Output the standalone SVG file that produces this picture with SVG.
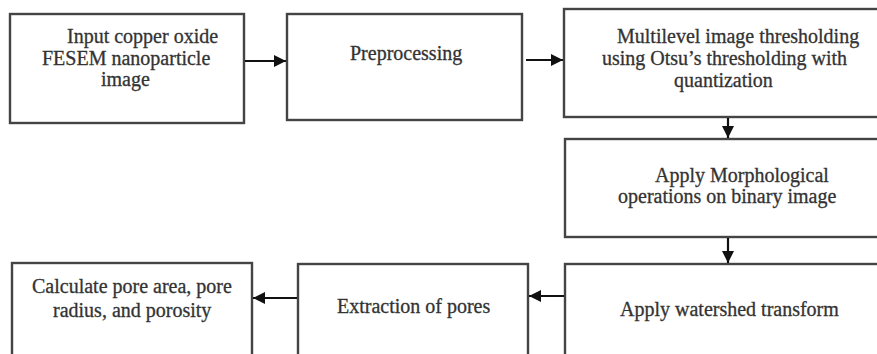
<svg xmlns="http://www.w3.org/2000/svg" width="877" height="354" viewBox="0 0 877 354">
<style>
.box{fill:#fff;stroke:#444;stroke-width:2.4}
.t{font-family:"Liberation Serif","Times New Roman",serif;font-size:20px;fill:#333;stroke:#333;stroke-width:0.3}
.c{stroke:#111;stroke-width:2.2;fill:none}
</style>
<defs>
<marker id="ah" markerWidth="12" markerHeight="12" refX="12" refY="6" orient="auto" markerUnits="userSpaceOnUse">
<path d="M0,0 L12,6 L0,12 Z" fill="#111"/>
</marker>
</defs>
<rect width="877" height="354" fill="#fff"/>
<g id="n1"><rect class="box" x="10" y="14" width="234" height="109"/>
<text class="t"><tspan x="67" y="43">Input copper oxide</tspan><tspan x="42" y="65">FESEM nanoparticle</tspan><tspan x="101" y="86">image</tspan></text></g>
<g id="n2"><rect class="box" x="287" y="14" width="235" height="106"/>
<text class="t" x="350" y="60">Preprocessing</text></g>
<g id="n3"><rect class="box" x="564" y="9" width="320" height="108"/>
<text class="t"><tspan x="617" y="43">Multilevel image thresholding</tspan><tspan x="602" y="65">using Otsu’s thresholding with</tspan><tspan x="674" y="87">quantization</tspan></text></g>
<g id="n4"><rect class="box" x="565" y="139" width="320" height="98"/>
<text class="t"><tspan x="655" y="182">Apply Morphological</tspan><tspan x="618" y="203">operations on binary image</tspan></text></g>
<g id="n5"><rect class="box" x="565" y="264" width="320" height="100"/>
<text class="t" x="620" y="316">Apply watershed transform</text></g>
<g id="n6"><rect class="box" x="298" y="264" width="230" height="100"/>
<text class="t" x="337" y="313">Extraction of pores</text></g>
<g id="n7"><rect class="box" x="12" y="263" width="240" height="100"/>
<text class="t"><tspan x="32" y="293">Calculate pore area, pore</tspan><tspan x="53" y="317">radius, and porosity</tspan></text></g>
<g id="connectors">
<line class="c" x1="245" y1="61" x2="286" y2="61" marker-end="url(#ah)"/>
<line class="c" x1="526" y1="60" x2="563" y2="60" marker-end="url(#ah)"/>
<line class="c" x1="728" y1="118" x2="728" y2="138" marker-end="url(#ah)"/>
<line class="c" x1="728" y1="238" x2="728" y2="263" marker-end="url(#ah)"/>
<line class="c" x1="564" y1="296" x2="529" y2="296" marker-end="url(#ah)"/>
<line class="c" x1="297" y1="298" x2="253" y2="298" marker-end="url(#ah)"/>
</g>
</svg>
